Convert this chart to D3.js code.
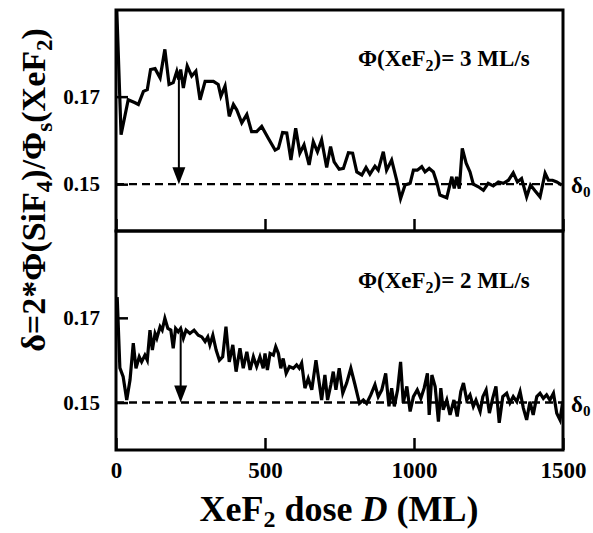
<!DOCTYPE html>
<html lang="en">
<head>
<meta charset="UTF-8" />
<script src="https://d3js.org/d3.v7.min.js"></script>
<style>
  body { margin: 0; background: #fff; }
  svg text { font-family: "Liberation Serif", "Times New Roman", serif; font-weight: bold; fill: #000; }
</style>
</head>
<body>
<svg width="593" height="533"></svg>
<script>
// dose axis ticks and delta ticks
const doseTicks = [0, 500, 1000, 1500];
const deltaTicks = [0.15, 0.17];
const delta0 = 0.15;

// top panel: flux 3 ML/s
const topDose = [0, 17, 41, 64, 75, 92, 105, 116, 131, 148, 164, 178, 192, 204, 211, 217, 226, 239, 254, 268,
  282, 299, 327, 343, 352, 366, 380, 394, 405, 422, 439, 455, 472, 489, 511, 534, 545, 559, 573, 587,
  603, 617, 631, 648, 662, 676, 690, 707, 720, 732, 749, 763, 780, 794, 808, 825, 839, 852, 869, 880,
  897, 908, 925, 942, 955, 970, 987, 998, 1011, 1026, 1037, 1051, 1065, 1076, 1087, 1110, 1127, 1135, 1143, 1152,
  1162, 1175, 1188, 1199, 1216, 1233, 1249, 1266, 1283, 1300, 1317, 1333, 1347, 1361, 1378, 1391, 1406, 1423, 1440, 1451,
  1465, 1479, 1496];
const topDelta = [0.195, 0.1613, 0.1693, 0.1686, 0.1682, 0.1712, 0.1716, 0.1762, 0.1764, 0.1743, 0.1808, 0.1728, 0.1732, 0.1758, 0.1739, 0.1762, 0.1720, 0.1770, 0.1747, 0.1758,
  0.1693, 0.1735, 0.1735, 0.1728, 0.1701, 0.1724, 0.1655, 0.1682, 0.1670, 0.1640, 0.1659, 0.1620, 0.1620, 0.1632, 0.1605, 0.1578, 0.1582, 0.1618, 0.1617, 0.1555,
  0.1628, 0.1571, 0.1590, 0.1544, 0.1597, 0.1574, 0.1601, 0.1538, 0.1586, 0.1551, 0.1534, 0.1536, 0.1572, 0.1571, 0.1528, 0.1521, 0.1538, 0.1523, 0.1541, 0.1532,
  0.1574, 0.1532, 0.1555, 0.1509, 0.1467, 0.1498, 0.1502, 0.1532, 0.1532, 0.1540, 0.1528, 0.1536, 0.1528, 0.1505, 0.1475, 0.1469, 0.1517, 0.1490, 0.1517, 0.1490,
  0.1582, 0.1548, 0.1528, 0.1500, 0.1494, 0.1486, 0.1502, 0.1496, 0.1505, 0.1502, 0.1509, 0.1526, 0.1505, 0.1513, 0.1471, 0.1498, 0.1485, 0.1471, 0.1525, 0.1509,
  0.1509, 0.1505, 0.1498];

// bottom panel: flux 2 ML/s
const botDose = [4, 13, 24, 36, 47, 58, 67, 78, 86, 97, 105, 114, 122, 131, 137, 148, 155, 164, 174, 184,
  192, 200, 209, 217, 226, 235, 248, 262, 276, 288, 299, 308, 315, 325, 336, 347, 358, 369, 380, 392,
  403, 416, 427, 439, 450, 461, 472, 483, 494, 500, 508, 517, 528, 536, 545, 553, 561, 571, 582, 595,
  606, 615, 623, 634, 645, 657, 671, 682, 690, 701, 710, 721, 729, 738, 749, 761, 774, 788, 802, 817,
  830, 841, 855, 869, 880, 892, 905, 916, 925, 934, 945, 955, 964, 976, 987, 998, 1011, 1023, 1034, 1045,
  1051, 1060, 1071, 1082, 1090, 1098, 1110, 1121, 1134, 1145, 1157, 1166, 1177, 1188, 1199, 1208, 1222, 1231, 1242, 1253,
  1264, 1275, 1286, 1298, 1311, 1322, 1333, 1345, 1356, 1367, 1378, 1389, 1400, 1412, 1423, 1434, 1445, 1456, 1468, 1479,
  1490, 1499];
const botDelta = [0.1749, 0.1582, 0.1561, 0.1506, 0.1553, 0.1640, 0.1581, 0.1608, 0.1596, 0.1612, 0.1600, 0.1671, 0.1624, 0.1663, 0.1652, 0.1679, 0.1671, 0.1699, 0.1675, 0.1671,
  0.1628, 0.1675, 0.1667, 0.1675, 0.1652, 0.1671, 0.1663, 0.1671, 0.1659, 0.1655, 0.1644, 0.1655, 0.1636, 0.1659, 0.1624, 0.1600, 0.1608, 0.1679, 0.1596, 0.1636,
  0.1573, 0.1628, 0.1581, 0.1620, 0.1577, 0.1608, 0.1585, 0.1608, 0.1581, 0.1616, 0.1577, 0.1616, 0.1612, 0.1632, 0.1616, 0.1581, 0.1604, 0.1569, 0.1585, 0.1581,
  0.1589, 0.1581, 0.1593, 0.1534, 0.1557, 0.1530, 0.1600, 0.1546, 0.1506, 0.1565, 0.1506, 0.1542, 0.1573, 0.1530, 0.1581, 0.1522, 0.1546, 0.1581, 0.1542, 0.1498,
  0.1506, 0.1498, 0.1518, 0.1542, 0.1514, 0.1530, 0.1569, 0.1491, 0.1534, 0.1491, 0.1530, 0.1596, 0.1499, 0.1538, 0.1479, 0.1514, 0.1530, 0.1510, 0.1534, 0.1569,
  0.1471, 0.1565, 0.1538, 0.1455, 0.1534, 0.1483, 0.1506, 0.1471, 0.1506, 0.1467, 0.1526, 0.1546, 0.1506, 0.1518, 0.1491, 0.1506, 0.1479, 0.1514, 0.1530, 0.1475,
  0.1510, 0.1538, 0.1452, 0.1514, 0.1522, 0.1499, 0.1514, 0.1502, 0.1526, 0.1487, 0.1459, 0.1502, 0.1471, 0.1514, 0.1522, 0.1510, 0.1518, 0.1506, 0.1522, 0.1475,
  0.1459, 0.1502];

// arrows marking the excess over delta0
const arrowDose = [211, 217];
const arrowTop = [0.1745, 0.1664];

const fluxLabels = ["3", "2"];

const svg = d3.select("svg");
const left = 116, right = 563;

const x = d3.scaleLinear().domain([0, 1500]).range([left, right]);

const panels = [
  { dose: topDose, delta: topDelta, top: 10, bottom: 231, domain: [0.1393, 0.1898], labelY: 66 },
  { dose: botDose, delta: botDelta, top: 231, bottom: 450, domain: [0.1388, 0.1905], labelY: 288 }
];

panels.forEach((p, i) => {
  const y = d3.scaleLinear().domain(p.domain).range([p.bottom, p.top]);
  const g = svg.append("g");

  g.append("clipPath").attr("id", "clip" + i)
    .append("rect").attr("x", left).attr("y", p.top).attr("width", right - left).attr("height", p.bottom - p.top);

  // baseline delta0
  g.append("line")
    .attr("x1", left).attr("x2", right)
    .attr("y1", y(delta0)).attr("y2", y(delta0))
    .attr("stroke", "#000").attr("stroke-width", 2.4)
    .attr("stroke-dasharray", "8,5");

  // data line
  const pts = p.dose.map((d, k) => [d, p.delta[k]]);
  g.append("path")
    .datum(pts)
    .attr("clip-path", `url(#clip${i})`)
    .attr("fill", "none")
    .attr("stroke", "#000")
    .attr("stroke-width", 3.2)
    .attr("stroke-linejoin", "miter")
    .attr("d", d3.line().x(d => x(d[0])).y(d => y(d[1])));

  // arrow
  const ax = x(arrowDose[i]);
  const yb = y(delta0);
  g.append("line")
    .attr("x1", ax).attr("x2", ax)
    .attr("y1", y(arrowTop[i])).attr("y2", yb - 10)
    .attr("stroke", "#000").attr("stroke-width", 2);
  g.append("path")
    .attr("d", `M${ax - 6.5},${yb - 17}L${ax + 6.5},${yb - 17}L${ax},${yb}Z`)
    .attr("fill", "#000");

  // y axis (ticks inside)
  g.append("g")
    .attr("transform", `translate(${left},0)`)
    .call(d3.axisLeft(y).tickValues(deltaTicks).tickSize(-12).tickPadding(16).tickFormat(d3.format(".2f")))
    .call(a => a.select(".domain").remove())
    .call(a => a.selectAll("line").attr("stroke-width", 2.5))
    .call(a => a.selectAll("text").attr("font-size", 21).attr("font-family", null));

  // x axis (ticks inside)
  g.append("g")
    .attr("transform", `translate(0,${p.bottom})`)
    .call(d3.axisBottom(x).tickValues(doseTicks).tickSize(-12).tickPadding(12).tickFormat(i === 1 ? d3.format("d") : () => ""))
    .call(a => a.select(".domain").remove())
    .call(a => a.selectAll("line").attr("stroke-width", 2.5))
    .call(a => a.selectAll("text").attr("font-size", 23).attr("font-family", null));

  // frame
  g.append("rect")
    .attr("x", left).attr("y", p.top)
    .attr("width", right - left).attr("height", p.bottom - p.top)
    .attr("fill", "none").attr("stroke", "#000").attr("stroke-width", 3);

  // flux label
  const t = g.append("text").attr("x", 358).attr("y", p.labelY).attr("font-size", 23);
  t.append("tspan").text("Φ(XeF");
  t.append("tspan").attr("font-size", 16).attr("dy", 5).text("2");
  t.append("tspan").attr("dy", -5).text(`)= ${fluxLabels[i]} ML/s`);

  // delta0 label
  const d0 = g.append("text").attr("x", 571).attr("y", y(delta0) + 9).attr("font-size", 23);
  d0.append("tspan").text("δ");
  d0.append("tspan").attr("font-size", 15).attr("dy", 4).text("0");
});

// x axis title
const xt = svg.append("text").attr("x", 339).attr("y", 521).attr("text-anchor", "middle").attr("font-size", 36);
xt.append("tspan").text("XeF");
xt.append("tspan").attr("font-size", 24).attr("dy", 6).text("2");
xt.append("tspan").attr("dy", -6).text(" dose ");
xt.append("tspan").attr("font-style", "italic").text("D");
xt.append("tspan").text(" (ML)");

// y axis title
const yt = svg.append("text")
  .attr("transform", "translate(45,190) rotate(-90)")
  .attr("text-anchor", "middle").attr("font-size", 34);
yt.append("tspan").text("δ=2*Φ(SiF");
yt.append("tspan").attr("font-size", 23).attr("dy", 7).text("4");
yt.append("tspan").attr("dy", -7).text(")/Φ");
yt.append("tspan").attr("font-size", 23).attr("dy", 7).text("s");
yt.append("tspan").attr("dy", -7).text("(XeF");
yt.append("tspan").attr("font-size", 23).attr("dy", 7).text("2");
yt.append("tspan").attr("dy", -7).text(")");
</script>
</body>
</html>
